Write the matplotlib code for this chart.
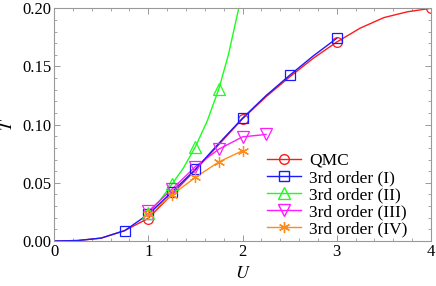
import matplotlib
matplotlib.use("Agg")
import matplotlib.pyplot as plt
from matplotlib.ticker import MultipleLocator, FormatStrFormatter

plt.rcParams["font.family"] = ["Liberation Serif", "DejaVu Serif"]
plt.rcParams["mathtext.fontset"] = "stix"

# QMC
qmc_u = [1.0, 2.0, 3.0, 4.0]
qmc_t = [0.0186, 0.105, 0.171, 0.200]
qmc_line_u = [0.0, 0.25, 0.5, 0.75, 1.0, 1.25, 1.5, 1.75, 2.0, 2.25, 2.5, 2.75, 3.0, 3.25, 3.5, 3.75, 4.0]
qmc_line_t = [0.0, 0.0004, 0.0025, 0.009, 0.0195, 0.040, 0.061, 0.083, 0.105, 0.124, 0.141, 0.157, 0.171, 0.183, 0.192, 0.197, 0.200]

# 3rd order (I)
o1_u = [0.75, 1.0, 1.25, 1.5, 2.0, 2.5, 3.0]
o1_t = [0.0089, 0.023, 0.042, 0.0616, 0.1055, 0.1424, 0.1742]
o1_line_u = [0.0, 0.25, 0.5, 0.75, 1.0, 1.25, 1.5, 1.75, 2.0, 2.25, 2.5, 2.75, 3.0]
o1_line_t = [0.0, 0.0004, 0.0025, 0.0089, 0.023, 0.042, 0.0616, 0.084, 0.1055, 0.125, 0.1424, 0.159, 0.1742]

# 3rd order (II)
o2_u = [1.0, 1.25, 1.5, 1.75]
o2_t = [0.024, 0.0487, 0.081, 0.131]
o2_line_u = [1.0, 1.125, 1.25, 1.375, 1.5, 1.625, 1.75, 1.85, 1.96]
o2_line_t = [0.024, 0.035, 0.0487, 0.063, 0.081, 0.103, 0.131, 0.160, 0.200]

# 3rd order (III)
o3_u = [1.0, 1.25, 1.5, 1.75, 2.0, 2.25]
o3_t = [0.0254, 0.0444, 0.0639, 0.079, 0.0895, 0.0916]

# 3rd order (IV)
o4_u = [1.0, 1.25, 1.5, 1.75, 2.0]
o4_t = [0.023, 0.0395, 0.0547, 0.068, 0.0776]

red = "#ff1a1a"
blue = "#1a1aff"
green = "#1aff1a"
magenta = "#ff1aff"
orange = "#ff8c1a"

fig = plt.figure(figsize=(4.36, 2.86), dpi=100)
ax = fig.add_axes([0.1239, 0.1573, 0.8646, 0.8137])

lw = 1.0
ms = 7

ax.plot(qmc_line_u, qmc_line_t, color=red, lw=lw)
ax.plot(o2_line_u, o2_line_t, color=green, lw=lw)
ax.plot(o3_u, o3_t, color=magenta, lw=lw)
ax.plot(o4_u, o4_t, color=orange, lw=lw)
ax.plot(o1_line_u, o1_line_t, color=blue, lw=lw)

ax.plot(qmc_u, qmc_t, ls="none", marker="o", mfc="none", mec=red, ms=ms, mew=0.9)
ax.plot(o1_u, o1_t, ls="none", marker="s", mfc="none", mec=blue, ms=ms, mew=0.9)
ax.plot(o2_u, o2_t, ls="none", marker="^", mfc="none", mec=green, ms=ms + 1, mew=0.9)
ax.plot(o3_u, o3_t, ls="none", marker="v", mfc="none", mec=magenta, ms=ms + 1, mew=0.9)
ax.plot(o4_u, o4_t, ls="none", marker=(6, 2, 0), color=orange, ms=ms + 1, mew=0.9)

# legend handles
h = []
h.append(ax.plot([], [], color=red, lw=lw, marker="o", mfc="none", mec=red, ms=ms)[0])
h.append(ax.plot([], [], color=blue, lw=lw, marker="s", mfc="none", mec=blue, ms=ms)[0])
h.append(ax.plot([], [], color=green, lw=lw, marker="^", mfc="none", mec=green, ms=ms + 1)[0])
h.append(ax.plot([], [], color=magenta, lw=lw, marker="v", mfc="none", mec=magenta, ms=ms + 1)[0])
h.append(ax.plot([], [], color=orange, lw=lw, marker=(6, 2, 0), ms=ms + 1)[0])
labels = ["QMC", "3rd order (I)", "3rd order (II)", "3rd order (III)", "3rd order (IV)"]
ax.legend(h, labels, loc="lower right", bbox_to_anchor=(0.97, -0.035), frameon=False,
          fontsize=12.5, handlelength=2.0, handletextpad=0.45, labelspacing=0.05, borderpad=0.2)

ax.set_xlim(0, 4)
ax.set_ylim(0, 0.2)
ax.xaxis.set_major_locator(MultipleLocator(1))
ax.xaxis.set_minor_locator(MultipleLocator(0.2))
ax.yaxis.set_major_locator(MultipleLocator(0.05))
ax.yaxis.set_minor_locator(MultipleLocator(0.01))
ax.yaxis.set_major_formatter(FormatStrFormatter("%.2f"))
ax.tick_params(which="both", direction="in", top=True, right=True, color="#999999",
               labelsize=12, pad=2)
ax.tick_params(which="major", length=4, width=0.7)
ax.tick_params(which="minor", length=2, width=0.6)
for s in ax.spines.values():
    s.set_color("#999999")
    s.set_linewidth(0.8)

ax.set_xlabel("$U$", fontsize=13, labelpad=4)
ax.set_ylabel("$T$", fontsize=13)
ax.yaxis.set_label_coords(-0.10, 0.5)

fig.savefig("out.png", dpi=100)
